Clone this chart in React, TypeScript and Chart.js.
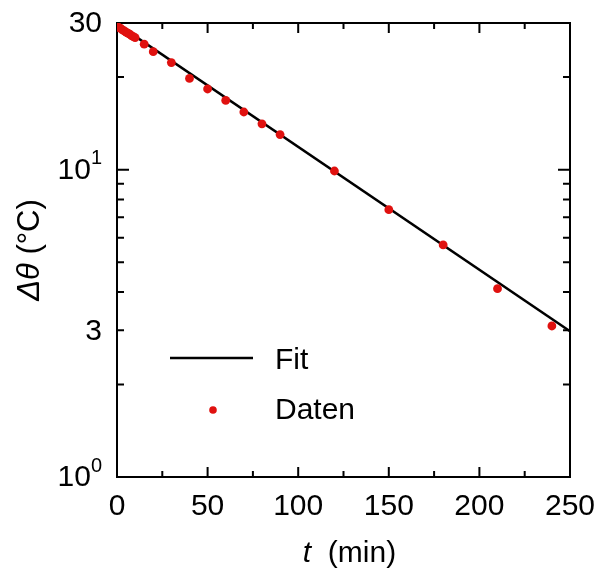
import { useEffect, useRef } from "react";
import { Chart, registerables } from "chart.js";

Chart.register(...registerables);

// ---- data ----
const timeMin = [0, 1, 2, 3, 4, 5, 6, 7, 8, 9, 10, 15, 20, 30, 40, 50, 60, 70, 80, 90, 120, 150, 180, 210, 240];
const tempDiff = [29.3, 29.0, 28.8, 28.5, 28.3, 28.0, 27.8, 27.6, 27.3, 27.1, 26.9, 25.6, 24.2, 22.3, 19.8, 18.3, 16.8, 15.4, 14.1, 13.0, 9.9, 7.41, 5.69, 4.1, 3.1];
const fitTime = [0, 250];
const fitTemp = [29.8, 2.98];

const xTickValues = [0, 50, 100, 150, 200, 250];
const xMinorTicks = [25, 75, 125, 175, 225];
const yTickValues = [1, 3, 10, 30];
const yTickLabels: [string, string][] = [["10", "0"], ["3", ""], ["10", "1"], ["30", ""]];
const yMajorTicks = [10];
const yMinorTicks = [2, 3, 4, 5, 6, 7, 8, 9, 20];
const legendLabels = ["Fit", "Daten"];
const xTitle = ["t", "  (min)"];
const yTitle = ["\u0394\u03b8", " (\u00b0C)"];

const FONT = '"Liberation Sans", Arial, Helvetica, sans-serif';
const FS = 30;
const SUP = 20;
const RED = "#e0110f";

const decorPlugin = {
  id: "decor",
  beforeDatasetsDraw(chart: any) {
    const { ctx, chartArea: a, scales } = chart;
    const xs = scales.x;
    const ys = scales.y;
    ctx.save();
    ctx.strokeStyle = "#000";
    ctx.lineWidth = 2;
    ctx.lineCap = "butt";
    ctx.strokeRect(a.left, a.top, a.right - a.left, a.bottom - a.top);
    ctx.beginPath();
    const xt = (v: number, len: number) => {
      const px = xs.getPixelForValue(v);
      ctx.moveTo(px, a.bottom);
      ctx.lineTo(px, a.bottom - len);
      ctx.moveTo(px, a.top);
      ctx.lineTo(px, a.top + len);
    };
    xTickValues.forEach((v) => xt(v, 10));
    xMinorTicks.forEach((v) => xt(v, 6));
    const yt = (v: number, len: number) => {
      const py = ys.getPixelForValue(v);
      ctx.moveTo(a.left, py);
      ctx.lineTo(a.left + len, py);
      ctx.moveTo(a.right, py);
      ctx.lineTo(a.right - len, py);
    };
    yMajorTicks.forEach((v) => yt(v, 12));
    yMinorTicks.forEach((v) => yt(v, 7));
    ctx.stroke();
    ctx.restore();
  },
  afterDraw(chart: any) {
    const { ctx, chartArea: a, scales } = chart;
    const ys = scales.y;
    ctx.save();
    ctx.fillStyle = "#000";
    ctx.textBaseline = "middle";
    ctx.textAlign = "left";
    // y tick labels with superscripts
    const rightEdge = a.left - 15;
    yTickValues.forEach((v, i) => {
      const py = ys.getPixelForValue(v);
      const [base, exp] = yTickLabels[i];
      ctx.font = `${SUP}px ${FONT}`;
      const ew = exp ? ctx.measureText(exp).width : 0;
      ctx.font = `${FS}px ${FONT}`;
      const bw = ctx.measureText(base).width;
      ctx.fillText(base, rightEdge - ew - bw, py + 1);
      if (exp) {
        ctx.font = `${SUP}px ${FONT}`;
        ctx.fillText(exp, rightEdge - ew, py - 11);
      }
    });
    // x title
    const cx = (a.left + a.right) / 2 + 6;
    ctx.font = `italic ${FS}px ${FONT}`;
    const w1 = ctx.measureText(xTitle[0]).width;
    ctx.font = `${FS}px ${FONT}`;
    const w2 = ctx.measureText(xTitle[1]).width;
    const sx = cx - (w1 + w2) / 2;
    ctx.font = `italic ${FS}px ${FONT}`;
    ctx.fillText(xTitle[0], sx, 554);
    ctx.font = `${FS}px ${FONT}`;
    ctx.fillText(xTitle[1], sx + w1, 554);
    // y title
    ctx.save();
    ctx.translate(30, (a.top + a.bottom) / 2);
    ctx.rotate(-Math.PI / 2);
    const YF = 31;
    ctx.font = `italic ${YF}px ${FONT}`;
    const v1 = ctx.measureText(yTitle[0]).width;
    ctx.font = `${YF}px ${FONT}`;
    const v2 = ctx.measureText(yTitle[1]).width;
    const sy = -(v1 + v2) / 2;
    ctx.font = `italic ${YF}px ${FONT}`;
    ctx.fillText(yTitle[0], sy, 0);
    ctx.font = `${YF}px ${FONT}`;
    ctx.fillText(yTitle[1], sy + v1, 0);
    ctx.restore();
    // legend
    const lineY = a.bottom - 119;
    ctx.strokeStyle = "#000";
    ctx.lineWidth = 2.5;
    ctx.beginPath();
    ctx.moveTo(a.left + 53, lineY);
    ctx.lineTo(a.left + 136, lineY);
    ctx.stroke();
    ctx.font = `${FS}px ${FONT}`;
    ctx.fillText(legendLabels[0], a.left + 158, lineY + 3);
    const dotY = a.bottom - 67;
    ctx.fillStyle = RED;
    ctx.beginPath();
    ctx.arc(a.left + 96, dotY, 3.8, 0, Math.PI * 2);
    ctx.fill();
    ctx.fillStyle = "#000";
    ctx.fillText(legendLabels[1], a.left + 158, dotY + 1);
    ctx.restore();
  },
};

export default function App() {
  const ref = useRef<HTMLCanvasElement>(null);
  useEffect(() => {
    document.body.style.margin = "0";
    const chart = new Chart(ref.current as HTMLCanvasElement, {
      type: "scatter",
      data: {
        datasets: [
          {
            label: legendLabels[1],
            data: timeMin.map((t, i) => ({ x: t, y: tempDiff[i] })),
            backgroundColor: RED,
            borderWidth: 0,
            pointRadius: 4.4,
            showLine: false,
          },
          {
            label: legendLabels[0],
            data: fitTime.map((t, i) => ({ x: t, y: fitTemp[i] })),
            showLine: true,
            borderColor: "#000",
            borderWidth: 2.5,
            pointRadius: 0,
            fill: false,
          } as any,
        ],
      },
      options: {
        responsive: false,
        animation: false,
        layout: { padding: { top: 23, right: 25, left: 0, bottom: 0 } },
        plugins: { legend: { display: false }, tooltip: { enabled: false } },
        scales: {
          x: {
            type: "linear",
            min: 0,
            max: 250,
            afterBuildTicks: (s: any) => {
              s.ticks = xTickValues.map((v) => ({ value: v }));
            },
            ticks: {
              color: "#000",
              font: { family: FONT, size: FS },
              padding: 12,
              maxRotation: 0,
              autoSkip: false,
            },
            grid: { display: false, drawTicks: false },
            border: { display: false },
            afterFit: (s: any) => {
              s.height = 97;
              s.paddingLeft = 0;
              s.paddingRight = 0;
            },
          },
          y: {
            type: "logarithmic",
            min: 1,
            max: 30,
            ticks: { display: false },
            grid: { display: false, drawTicks: false },
            border: { display: false },
            afterFit: (s: any) => {
              s.width = 117;
              s.paddingTop = 0;
              s.paddingBottom = 0;
            },
          },
        },
      } as any,
      plugins: [decorPlugin],
    });
    return () => chart.destroy();
  }, []);
  return <canvas ref={ref} width={595} height={574} style={{ display: "block", width: 595, height: 574 }} />;
}
